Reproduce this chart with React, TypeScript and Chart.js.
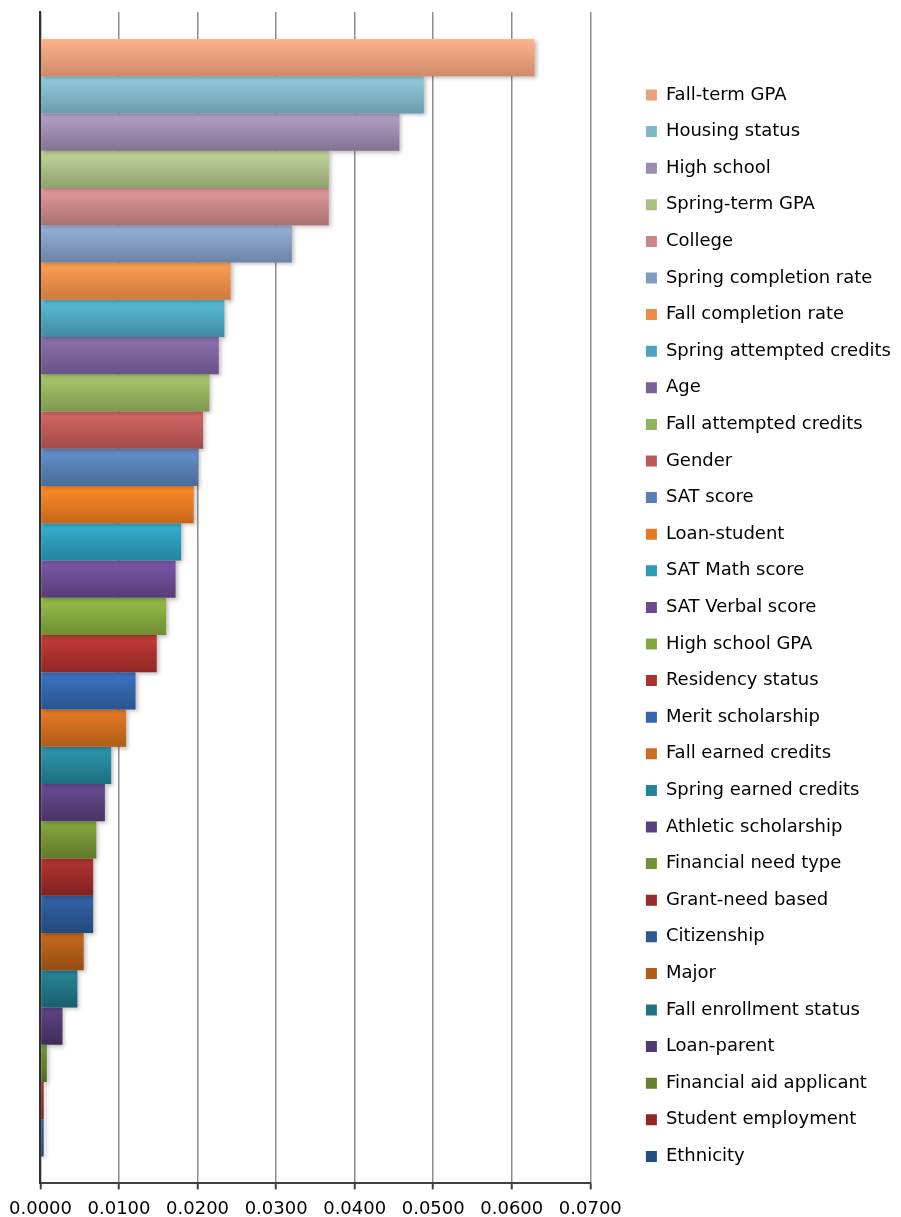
import { useEffect, useRef } from 'react';
import { Chart, registerables } from 'chart.js';

Chart.register(...registerables);

const CATEGORIES = [
  'Fall-term GPA',
  'Housing status',
  'High school',
  'Spring-term GPA',
  'College',
  'Spring completion rate',
  'Fall completion rate',
  'Spring attempted credits',
  'Age',
  'Fall attempted credits',
  'Gender',
  'SAT score',
  'Loan-student',
  'SAT Math score',
  'SAT Verbal score',
  'High school GPA',
  'Residency status',
  'Merit scholarship',
  'Fall earned credits',
  'Spring earned credits',
  'Athletic scholarship',
  'Financial need type',
  'Grant-need based',
  'Citizenship',
  'Major',
  'Fall enrollment status',
  'Loan-parent',
  'Financial aid applicant',
  'Student employment',
  'Ethnicity',
];

const VALUES = [
  0.0629, 0.0488, 0.0457, 0.0367, 0.0367, 0.032, 0.0242, 0.0234, 0.0227, 0.0215,
  0.0207, 0.02, 0.0195, 0.0179, 0.0172, 0.016, 0.0148, 0.0121, 0.0109, 0.009,
  0.0082, 0.0071, 0.0067, 0.0067, 0.0055, 0.0047, 0.0028, 0.0008, 0.0004, 0.0004,
];

const TOP_COLORS = [
  '#FFB48C', '#94CEDE', '#B3A3C8', '#C4D79C', '#E69A9B', '#96B4D8', '#FFA052', '#5BBEDA',
  '#8D72B1', '#A9C96B', '#D66765', '#6592D0', '#FF8D2A', '#36B0D1', '#7C58A7', '#97BF48',
  '#C63B38', '#3A75C3', '#E97C24', '#2D98B1', '#6B4D94', '#87AA3E', '#B33432', '#3365A9',
  '#C96B1E', '#27869A', '#5F4586', '#749636', '#A52D2B', '#2E5B97',
];

const BOTTOM_COLORS = [
  '#CF8A6A', '#6B9BAD', '#847293', '#8EA26C', '#A87171', '#6C83A5', '#CF793E', '#3E8BA2',
  '#695285', '#7E994E', '#A14B4A', '#496C99', '#C7671A', '#22859E', '#573C79', '#6E8F33',
  '#912826', '#2A5490', '#AF5C18', '#1D6D81', '#493366', '#607A2A', '#812221', '#23497C',
  '#944D13', '#195F6F', '#3E2C5A', '#526A25', '#741D1C', '#1E406B',
];

const LEGEND_COLORS = [
  '#EBA07C', '#82B7C8', '#9C8BB0', '#ABBF85', '#CA8687', '#829BBF', '#EB8C47', '#4CA5BE',
  '#7A619A', '#94B15D', '#BC5957', '#577FB5', '#E37A22', '#2C9BB8', '#694A90', '#83A73E',
  '#AC322F', '#3265AA', '#CC6C1E', '#258399', '#5A4080', '#749235', '#9A2B2A', '#2C5793',
  '#AF5C19', '#207285', '#4F3970', '#63802E', '#8D2624', '#264D82',
];

const X_MIN = 0;
const X_MAX = 0.07;
const X_STEP = 0.01;

const CAT_PCT = 0.954;

export default function App() {
  const ref = useRef<HTMLCanvasElement>(null);

  useEffect(() => {
    const canvas = ref.current;
    if (!canvas) return;
    const N = CATEGORIES.length;

    const gradientFor = (c: any, i: number) => {
      const chart = c.chart;
      const ys = chart.scales && chart.scales.y;
      if (!ys || !chart.chartArea || !isFinite(ys.top)) return LEGEND_COLORS[i];
      const full = ys.bottom - ys.top;
      const group = full * CAT_PCT;
      const h = group / N;
      const top = ys.top + (full - group) / 2 + i * h;
      const g = chart.ctx.createLinearGradient(0, top, 0, top + h);
      g.addColorStop(0, TOP_COLORS[i]);
      g.addColorStop(1, BOTTOM_COLORS[i]);
      return g;
    };

    const shadowPlugin = {
      id: 'barShadow',
      beforeDatasetsDraw(chart: any) {
        const ctx = chart.ctx;
        ctx.save();
        ctx.shadowColor = 'rgba(0,0,0,0.25)';
        ctx.shadowBlur = 4;
        ctx.shadowOffsetX = 2;
        ctx.shadowOffsetY = 2;
      },
      afterDatasetsDraw(chart: any) {
        chart.ctx.restore();
      },
    };

    const chart = new Chart(canvas, {
      type: 'bar',
      data: {
        labels: [''],
        datasets: CATEGORIES.map((name, i) => ({
          label: name,
          data: [VALUES[i]],
          backgroundColor: (c: any) => gradientFor(c, i),
          borderWidth: 0,
          categoryPercentage: CAT_PCT,
          barPercentage: 1,
        })),
      },
      options: {
        indexAxis: 'y',
        responsive: false,
        animation: false,
        devicePixelRatio: 1,
        layout: { padding: { left: 32, top: 12, right: 0, bottom: -12 } },
        font: { family: "'DejaVu Sans', sans-serif", size: 18 },
        color: '#000',
        plugins: {
          tooltip: { enabled: false },
          legend: {
            position: 'right',
            align: 'center',
            maxWidth: 400,
            title: { display: true, text: '', padding: 0, font: { size: 10, lineHeight: 1.04 } },
            labels: {
              boxWidth: 11,
              boxHeight: 11,
              padding: 18.6,
              color: '#000',
              font: { family: "'DejaVu Sans', sans-serif", size: 18 },
              generateLabels: (ch: any) =>
                ch.data.datasets.map((ds: any, i: number) => ({
                  text: ds.label,
                  fillStyle: LEGEND_COLORS[i],
                  strokeStyle: LEGEND_COLORS[i],
                  lineWidth: 0,
                  hidden: false,
                  datasetIndex: i,
                  fontColor: '#000',
                })),
            },
          },
        },
        scales: {
          x: {
            type: 'linear',
            position: 'bottom',
            min: X_MIN,
            max: X_MAX,
            grid: {
              color: '#8c8c8c',
              lineWidth: 1.5,
              tickLength: 6,
              tickColor: '#404040',
              tickWidth: 2,
            },
            border: { display: true, color: '#404040', width: 2 },
            ticks: {
              stepSize: X_STEP,
              padding: 9,
              color: '#000',
              font: { family: "'DejaVu Sans', sans-serif", size: 18 },
              callback: (v: any) => Number(v).toFixed(4),
            },
          },
          y: {
            type: 'category',
            position: 'left',
            grid: { display: false },
            ticks: { display: false },
            border: { display: true, color: '#303030', width: 2 },
          },
          spacer: {
            type: 'linear',
            axis: 'y',
            position: 'right',
            display: true,
            grid: { display: false },
            ticks: { display: false },
            border: { display: false },
            afterFit: (s: any) => {
              s.width = 37;
            },
          },
        },
      },
      plugins: [shadowPlugin],
    } as any);

    return () => chart.destroy();
  }, []);

  return (
    <div style={{ position: 'absolute', left: 0, top: 0, width: 901, height: 1217, background: '#fff' }}>
      <canvas ref={ref} width={901} height={1217} style={{ display: 'block' }} />
    </div>
  );
}
